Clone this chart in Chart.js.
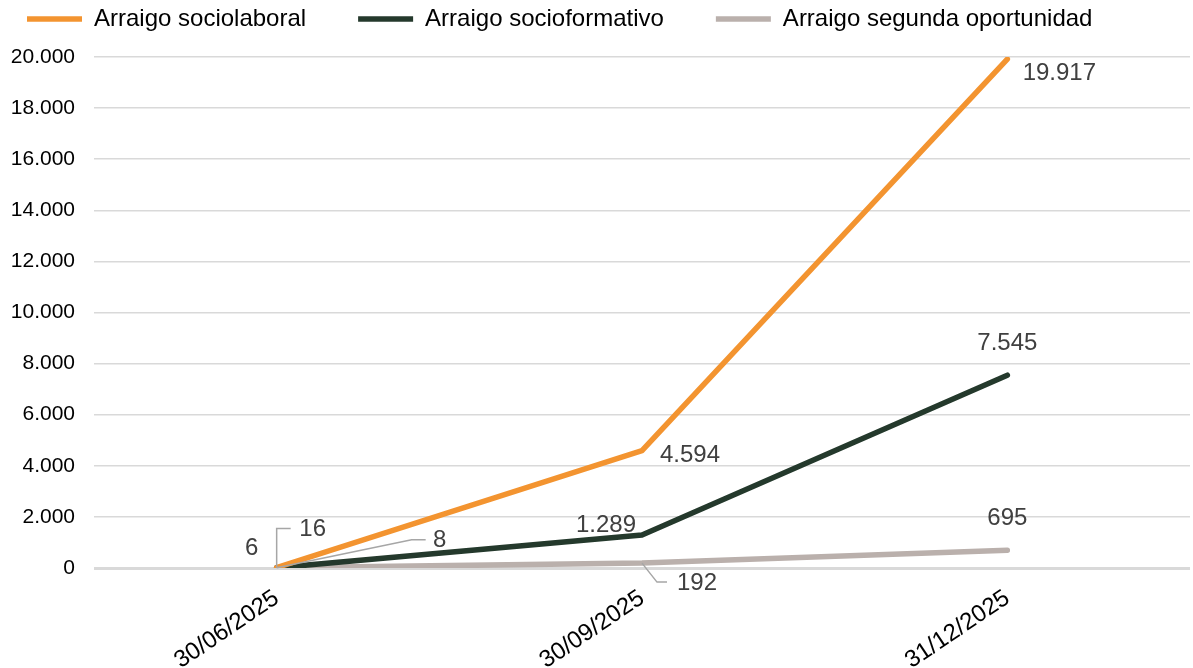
<!DOCTYPE html>
<html>
<head>
<meta charset="utf-8">
<script src="https://cdn.jsdelivr.net/npm/chart.js@4/dist/chart.umd.min.js"></script>
<style>
  html, body { margin: 0; padding: 0; background: #fff; }
  #wrap { width: 1193px; height: 668px; }
</style>
</head>
<body>
<div id="wrap"><canvas id="arraigoChart" width="1193" height="668"></canvas></div>
<script>
// datos
const fechas = ['30/06/2025', '30/09/2025', '31/12/2025'];
const sociolaboral = [16, 4594, 19917];
const socioformativo = [8, 1289, 7545];
const segundaOportunidad = [6, 192, 695];

// donde va cada etiqueta respecto al punto (dx, dy) y si lleva linea guia
const etiquetas = [
    [{dx: 36, dy: -38, guia: [[0, -39], [14, -39]]}, {dx: 48, dy: 5}, {dx: 52, dy: 14}],
    [{dx: 163, dy: -27, guia: [[135, -28], [149, -28]]}, {dx: -36, dy: -10}, {dx: 0, dy: -32}],
    [{dx: -25, dy: -19}, {dx: 55, dy: 20, guia: [[15, 19], [25, 19]]}, {dx: 0, dy: -32}]
];

function miles(v) {
    return String(v).replace(/\B(?=(\d{3})+(?!\d))/g, '.');
}

const etiquetasPlugin = {
    id: 'etiquetas',
    afterDatasetsDraw(chart) {
        const ctx = chart.ctx;
        ctx.save();
        ctx.font = '24px "Liberation Sans", Arial, sans-serif';
        ctx.fillStyle = '#404040';
        ctx.textAlign = 'center';
        ctx.textBaseline = 'middle';
        chart.data.datasets.forEach((ds, i) => {
            const meta = chart.getDatasetMeta(i);
            meta.data.forEach((pt, j) => {
                const e = etiquetas[i][j];
                if (e.guia) {
                    ctx.strokeStyle = '#a6a6a6';
                    ctx.lineWidth = 1.5;
                    ctx.beginPath();
                    ctx.moveTo(pt.x, pt.y);
                    e.guia.forEach(g => ctx.lineTo(pt.x + g[0], pt.y + g[1]));
                    ctx.stroke();
                }
                ctx.fillText(miles(ds.data[j]), pt.x + e.dx, pt.y + e.dy);
            });
        });
        ctx.restore();
    }
};

function serie(label, data, color) {
    return {
        label: label,
        data: data,
        borderColor: color,
        backgroundColor: color,
        borderWidth: 5.5,
        borderCapStyle: 'round',
        borderJoinStyle: 'round',
        pointRadius: 0,
        tension: 0,
        fill: false
    };
}

function initializeChart() {
    const ctx = document.getElementById('arraigoChart').getContext('2d');
    new Chart(ctx, {
        type: 'line',
        data: {
            labels: fechas,
            datasets: [
                serie('Arraigo sociolaboral', sociolaboral, '#f39430'),
                serie('Arraigo socioformativo', socioformativo, '#24392c'),
                serie('Arraigo segunda oportunidad', segundaOportunidad, '#bab0ac')
            ]
        },
        options: {
            responsive: false,
            animation: false,
            layout: {
                padding: {top: -45, right: 3, left: -25, bottom: 0}
            },
            plugins: {
                tooltip: {enabled: false},
                // titulo vacio, solo deja hueco entre leyenda y grafico
                title: {
                    display: true,
                    text: '',
                    weight: 500,
                    padding: {top: 0, bottom: 15},
                    font: {size: 1, lineHeight: 1}
                },
                legend: {
                    position: 'top',
                    align: 'start',
                    labels: {
                        usePointStyle: true,
                        pointStyle: 'line',
                        pointStyleWidth: 55,
                        boxHeight: 24,
                        padding: 52,
                        color: '#000',
                        font: {family: '"Liberation Sans", Arial, sans-serif', size: 24}
                    }
                }
            },
            scales: {
                x: {
                    offset: true,
                    grid: {display: false},
                    border: {display: false},
                    ticks: {
                        color: '#000',
                        minRotation: 34,
                        maxRotation: 34,
                        padding: 8,
                        font: {family: '"Liberation Sans", Arial, sans-serif', size: 24}
                    },
                    afterFit: (s) => { s.height = 100; }
                },
                y: {
                    min: 0,
                    max: 20000,
                    border: {display: false},
                    grid: {
                        drawTicks: false,
                        color: '#d9d9d9',
                        lineWidth: (c) => c.tick && c.tick.value === 0 ? 3 : 1.5
                    },
                    ticks: {
                        stepSize: 2000,
                        padding: 19,
                        color: '#000',
                        font: {family: '"Liberation Sans", Arial, sans-serif', size: 21},
                        callback: (v) => miles(v)
                    },
                    afterFit: (s) => { s.width = 119; }
                }
            }
        },
        plugins: [etiquetasPlugin]
    });
}

window.onload = initializeChart;
</script>
</body>
</html>
